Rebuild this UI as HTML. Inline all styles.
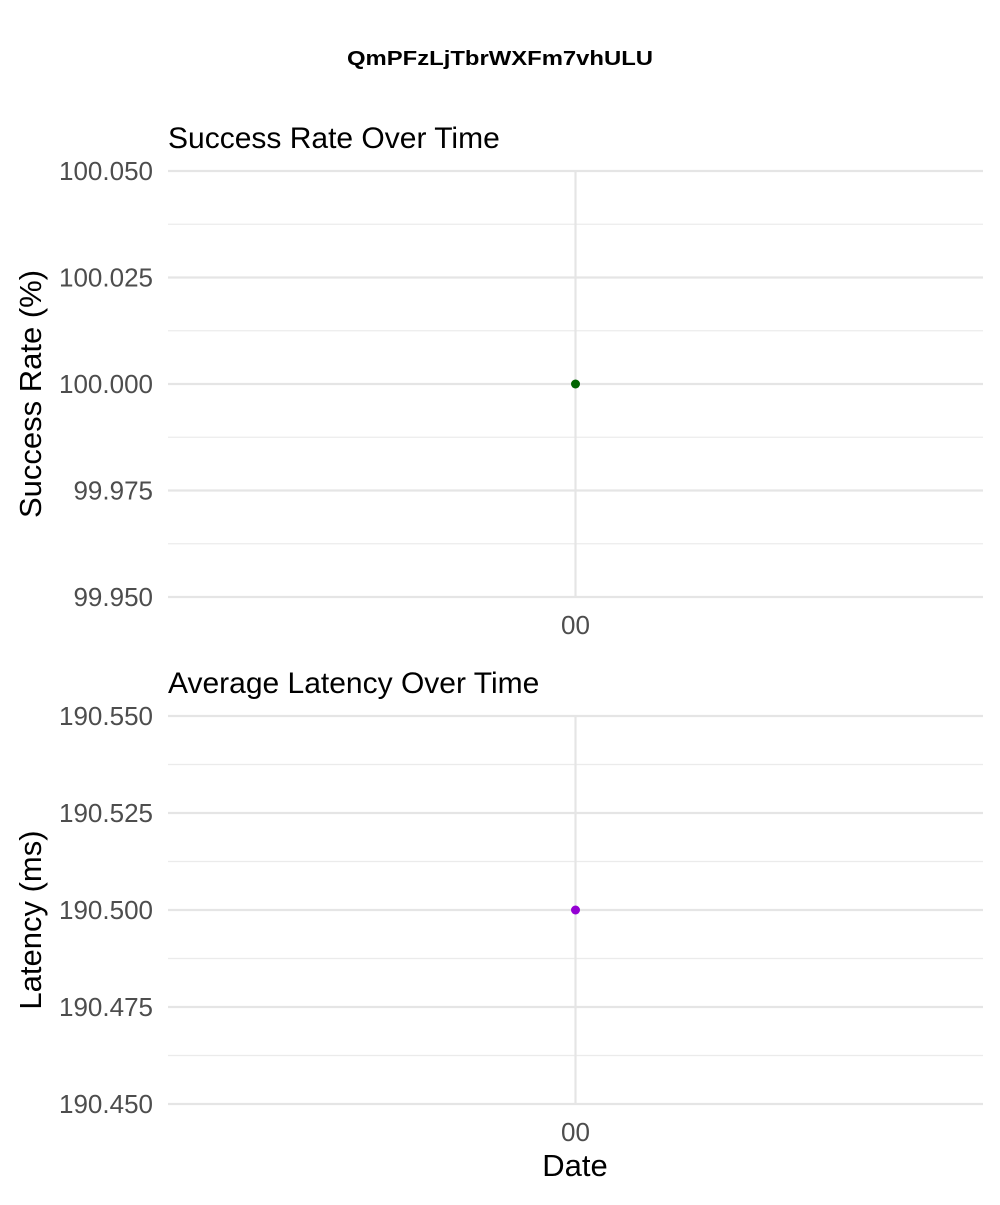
<!DOCTYPE html>
<html><head><meta charset="utf-8"><style>
body{margin:0;background:#fff;font-family:"Liberation Sans",Arial,sans-serif}
svg text{font-family:"Liberation Sans",Arial,sans-serif}
</style></head><body>
<svg id="chart" width="1000" height="1200" xmlns="http://www.w3.org/2000/svg">
<text x="500" y="65" text-anchor="middle" font-size="20" font-weight="bold" textLength="306" lengthAdjust="spacingAndGlyphs">QmPFzLjTbrWXFm7vhULU</text>
<g id="p1"></g>
<g id="p2"></g>
<text x="575" y="1176" text-anchor="middle" font-size="31">Date</text>
</svg>
<script>
const dates = ["00"];
const successRate = [100.0];
const latency = [190.5];
const srTicks = [99.950, 99.975, 100.000, 100.025, 100.050];
const latTicks = [190.450, 190.475, 190.500, 190.525, 190.550];
const NS = "http://www.w3.org/2000/svg";
function mk(parent, tag, attrs, text){
  const e = document.createElementNS(NS, tag);
  for (const k in attrs) e.setAttribute(k, attrs[k]);
  if (text !== undefined) e.textContent = text;
  parent.appendChild(e); return e;
}
function panel(g, cfg){
  const x0=168, x1=983, top=cfg.top, bot=cfg.bot;
  const ticks=cfg.ticks, lo=ticks[0], hi=ticks[ticks.length-1];
  const y = v => bot - (v-lo)/(hi-lo)*(bot-top);
  const xc = i => x0 + (i+0.5)*(x1-x0)/cfg.dates.length;
  const t = mk(g,'text',{x:168,y:top-23,'font-size':30}, cfg.title);
  
  
  for (let i=0;i<ticks.length-1;i++){
    const my = y((ticks[i]+ticks[i+1])/2);
    const m = mk(g,'line',{x1:x0,x2:x1,y1:my,y2:my,stroke:'#ebebeb','stroke-width':1.2});
    
    
  }
  ticks.forEach(v=>{
    const l = mk(g,'line',{x1:x0,x2:x1,y1:y(v),y2:y(v),stroke:'#e5e5e5','stroke-width':2.2});
    
    
    const tl = mk(g,'text',{x:153,y:y(v)+9,'text-anchor':'end','font-size':26,fill:'#4d4d4d'}, v.toFixed(3));
    
    
  });
  cfg.dates.forEach((d,i)=>{
    const vl = mk(g,'line',{x1:xc(i),x2:xc(i),y1:top,y2:bot,stroke:'#e5e5e5','stroke-width':2.2});
    
    
    const xl = mk(g,'text',{x:xc(i),y:bot+37,'text-anchor':'middle','font-size':26,fill:'#4d4d4d'}, d);
    
    
  });
  cfg.values.forEach((v,i)=>{
    const c = mk(g,'circle',{cx:xc(i),cy:y(v),r:4.5,fill:cfg.color});
    
    
  });
  const mid=(top+bot)/2 + 10;
  const at = mk(g,'text',{x:41,y:mid,'text-anchor':'middle','font-size':31,transform:`rotate(-90 41 ${mid})`}, cfg.ylabel);
  
  
}
panel(document.getElementById('p1'),{key:'success-rate',top:171,bot:597,ticks:srTicks,dates:dates,values:successRate,color:'#006400',title:'Success Rate Over Time',ylabel:'Success Rate (%)'});
panel(document.getElementById('p2'),{key:'latency',top:716,bot:1104,ticks:latTicks,dates:dates,values:latency,color:'#9400d3',title:'Average Latency Over Time',ylabel:'Latency (ms)'});
</script>
</body></html>
